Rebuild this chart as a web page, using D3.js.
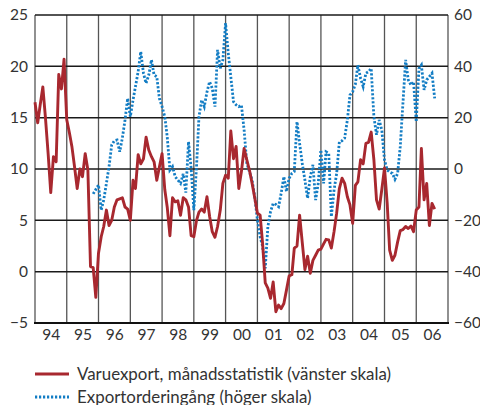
<!DOCTYPE html>
<meta charset="utf-8">
<script src="https://d3js.org/d3.v7.min.js"></script>
<style>
  body { margin: 0; background: #fff; }
  text { font-family: Lato, "Open Sans", sans-serif; fill: #333; }
</style>
<div id="chart"></div>
<script>
    // monthly values, red from Jan 1994, blue from Nov 1995
    var redStart = [1994, 0];
    var redValues = [
        16.5, 14.5, 16.2, 18.0, 15.0, 11.5, 7.7, 11.2, 10.7, 19.2, 17.8, 20.7,
        14.8, 13.5, 12.2, 10.2, 8.1, 10.0, 9.25, 11.5, 9.9, 0.5, 0.4, -2.5,
        1.8, 3.4, 4.4, 6.0, 4.5, 5.0, 6.3, 7.0, 7.1, 7.2, 6.3, 6.1,
        5.0, 8.9, 8.1, 11.4, 10.5, 11.0, 13.1, 11.85, 11.2, 10.7, 8.9, 10.2,
        11.5, 8.0, 6.3, 3.5, 7.2, 6.8, 6.9, 5.5, 7.2, 7.0, 6.3, 3.5,
        3.4, 5.0, 5.8, 6.1, 5.8, 7.3, 5.4, 3.9, 3.35, 4.4, 6.0, 8.6,
        9.4, 9.1, 13.7, 11.0, 12.2, 8.1, 9.75, 12.0, 10.9, 9.9, 8.6, 7.2,
        5.7, 5.5, 2.8, -1.1, -1.6, -2.6, -1.0, -3.9, -3.25, -3.6, -3.1, -1.8,
        -0.4, -0.3, 2.3, 2.5, 5.5, 2.8, 0.2, 1.5, -0.15, 1.1, 1.6, 2.1,
        2.2, 2.7, 3.15, 3.1, 2.3, 3.9, 5.7, 8.1, 9.1, 8.6, 7.3, 6.5,
        4.7, 8.4, 8.75, 10.9, 10.5, 12.5, 12.6, 13.6, 10.9, 7.0, 6.1, 8.0,
        10.1, 6.65, 2.1, 1.1, 1.6, 2.9, 4.0, 4.1, 4.4, 4.2, 4.45, 3.9,
        6.0, 6.3, 12.0, 7.0, 8.6, 4.5, 6.65, 6.1
    ];
    var blueStart = [1995, 10];
    var blueValues = [
        -9.7, -8.0,
        -6.2, -16.0, -12.1, -5.6, 0.9, 9.4, 11.0, 11.3, 6.7, 12.0, 19.1, 27.5,
        20.4, 26.9, 32.1, 38.0, 45.7, 37.3, 33.4, 36.6, 42.5, 36.6, 36.0, 27.5,
        24.3, 20.4, 12.6, -0.4, 0.9, -3.0, -4.3, -5.6, -1.9, -9.2, 10.6, 0.3,
        -16.0, 0.9, 20.4, 26.9, 24.3, 30.0, 34.0, 31.4, 24.3, 46.4, 39.2, 42.5,
        56.8, 45.0, 36.0, 26.2, 25.0, 24.3, 24.9, 15.2, 2.2, -1.0, -4.3, -10.8,
        -19.9, -26.4, -30.0, -38.7, -22.5, -16.6, -13.4, -13.8, -14.7, -9.5, -3.0, -8.8,
        -3.6, -1.7, -1.0, 18.4, 10.0, 2.0, -4.3, -11.4, -3.0, 1.6, -12.1, -5.6,
        7.4, -5.6, 6.7, 6.1, -18.6, -8.2, -1.7, 10.6, 11.0, 12.0, 19.1, 28.8,
        30.1, 33.0, 40.5, 35.3, 32.1, 37.3, 37.9, 39.2, 20.4, 13.3, 19.1, 15.2,
        3.5, -0.4, -1.2, -1.7, -4.0, -1.7, 8.7, 25.6, 42.5, 34.7, 32.7, 34.0,
        18.4, 39.2, 40.5, 30.8, 34.7, 36.0, 37.3, 27.5
    ];
    var yearLabels = ["94", "95", "96", "97", "98", "99", "00", "01", "02", "03", "04", "05", "06"];
    var leftTicks = [-5, 0, 5, 10, 15, 20, 25];
    var rightTicks = [-60, -40, -20, 0, 20, 40, 60];
    var legendLabels = ["Varuexport, månadsstatistik (vänster skala)", "Exportorderingång (höger skala)"];

    var W = 480, H = 405;
    var plotLeft = 35, plotRight = 448, plotTop = 15, plotBottom = 323;
    var red = "#a8282f", blue = "#137dc4";

    var svg = d3.select("#chart").append("svg")
        .attr("width", W).attr("height", H);

    var x = d3.scaleTime()
        .domain([new Date(1994, 0, 1), new Date(2007, 0, 1)])
        .range([plotLeft, plotRight]);
    var yL = d3.scaleLinear().domain([-5, 25]).range([plotBottom, plotTop]);
    var yR = d3.scaleLinear().domain([-60, 60]).range([plotBottom, plotTop]);

    var years = d3.range(1994, 2008).map(function (y) { return new Date(y, 0, 1); });

    // vertical grid
    svg.append("g").selectAll("line").data(years).enter().append("line")
        .attr("x1", function (d) { return x(d); }).attr("x2", function (d) { return x(d); })
        .attr("y1", plotTop).attr("y2", plotBottom)
        .attr("stroke", "#555").attr("stroke-width", 1.3);

    // horizontal grid
    svg.append("g").selectAll("line").data(leftTicks.slice(1)).enter().append("line")
        .attr("x1", plotLeft).attr("x2", plotRight)
        .attr("y1", function (d) { return yL(d); }).attr("y2", function (d) { return yL(d); })
        .attr("stroke", "#1a1a1a").attr("stroke-width", 1.5);

    // bottom axis line
    svg.append("line")
        .attr("x1", plotLeft - 1).attr("x2", plotRight + 1)
        .attr("y1", plotBottom).attr("y2", plotBottom)
        .attr("stroke", "#111").attr("stroke-width", 2.2);

    var redData = redValues.map(function (v, i) {
        return { date: new Date(redStart[0], redStart[1] + i, 1), value: v };
    });
    var blueData = blueValues.map(function (v, i) {
        return { date: new Date(blueStart[0], blueStart[1] + i, 1), value: v };
    });

    svg.append("path").datum(blueData)
        .attr("fill", "none")
        .attr("stroke", blue)
        .attr("stroke-width", 2.8)
        .attr("stroke-dasharray", "2.2,1.8")
        .attr("d", d3.line().x(function (d) { return x(d.date); }).y(function (d) { return yR(d.value); }));

    svg.append("path").datum(redData)
        .attr("fill", "none")
        .attr("stroke", red)
        .attr("stroke-width", 2.9)
        .attr("stroke-linejoin", "round")
        .attr("d", d3.line().x(function (d) { return x(d.date); }).y(function (d) { return yL(d.value); }));

    // axes (labels only)
    var axL = svg.append("g").attr("transform", "translate(" + plotLeft + ",0)")
        .call(d3.axisLeft(yL).tickValues(leftTicks).tickSize(0).tickPadding(7));
    var axR = svg.append("g").attr("transform", "translate(" + plotRight + ",0)")
        .call(d3.axisRight(yR).tickValues(rightTicks).tickSize(0).tickPadding(6));
    var midYears = d3.range(1994, 2007).map(function (y) { return new Date(y, 6, 1); });
    var axB = svg.append("g").attr("transform", "translate(0," + plotBottom + ")")
        .call(d3.axisBottom(x).tickValues(midYears).tickSize(0).tickPadding(6)
            .tickFormat(function (d, i) { return yearLabels[i]; }));

    [axL, axR, axB].forEach(function (a) {
        a.select(".domain").remove();
        a.selectAll("text").attr("font-size", 15.5).attr("fill", "#333")
            .style("font-family", "Lato, 'Open Sans', sans-serif");
    });

    // legend
    var legend = svg.append("g");
    legend.append("line").attr("x1", 35).attr("x2", 69).attr("y1", 374).attr("y2", 374)
        .attr("stroke", red).attr("stroke-width", 2.9);
    legend.append("line").attr("x1", 35).attr("x2", 69).attr("y1", 397).attr("y2", 397)
        .attr("stroke", blue).attr("stroke-width", 2.8).attr("stroke-dasharray", "2.2,1.8");
    legend.selectAll("text").data(legendLabels).enter().append("text")
        .attr("x", 77).attr("y", function (d, i) { return 380 + i * 23; })
        .attr("font-size", 16.9)
        .text(function (d) { return d; });
</script>
